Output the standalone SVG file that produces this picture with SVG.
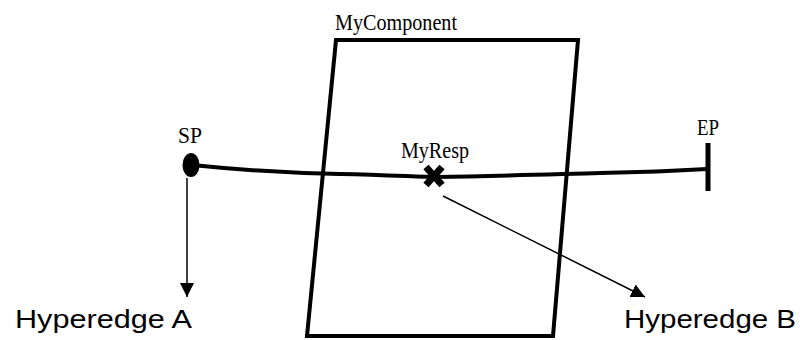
<svg xmlns="http://www.w3.org/2000/svg" width="800" height="340" viewBox="0 0 800 340">
<style>
.serif{font-family:"Liberation Serif",serif;font-size:23px;fill:#000}
.sans{font-family:"Liberation Sans",sans-serif;font-size:26px;fill:#000}
.thin{stroke:#000;stroke-width:1.5;fill:none}
</style>
<defs>
<marker id="ah2" viewBox="0 0 10 10" refX="10" refY="5" markerWidth="14" markerHeight="14" markerUnits="userSpaceOnUse" orient="auto">
<path d="M0,0 L10,5 L0,10 z" fill="#000"/>
</marker>
</defs>
<rect width="800" height="340" fill="#fff"/>
<g id="MyComponent">
<polygon points="336,40 578,40 553,336 307,336" fill="none" stroke="#000" stroke-width="4"/>
<text class="serif" x="335" y="30" textLength="122" lengthAdjust="spacingAndGlyphs">MyComponent</text>
</g>
<g id="connectors">
<path d="M192,165 C240,170 290,173 340,174 C390,175 420,177 435,177 C500,176 560,174 600,173 C650,172 690,170 707,169" fill="none" stroke="#000" stroke-width="4"/>
<line class="thin" x1="187" y1="178" x2="187" y2="297" marker-end="url(#ah2)"/>
<line class="thin" x1="443" y1="196" x2="645" y2="297" marker-end="url(#ah2)"/>
</g>
<g id="SP">
<ellipse cx="191" cy="165" rx="8.5" ry="12" fill="#000"/>
<text class="serif" x="178" y="143" textLength="24" lengthAdjust="spacingAndGlyphs">SP</text>
</g>
<g id="EP">
<line x1="708" y1="143" x2="708" y2="191" stroke="#000" stroke-width="5"/>
<text class="serif" x="697" y="135" textLength="22" lengthAdjust="spacingAndGlyphs">EP</text>
</g>
<g id="MyResp">
<path d="M426,167 L442,185 M442,167 L426,185" stroke="#000" stroke-width="7"/>
<text class="serif" x="401" y="158" textLength="68" lengthAdjust="spacingAndGlyphs">MyResp</text>
</g>
<g id="HyperedgeA">
<text class="sans" x="15" y="328" textLength="177" lengthAdjust="spacingAndGlyphs">Hyperedge A</text>
</g>
<g id="HyperedgeB">
<text class="sans" x="624" y="328" textLength="172" lengthAdjust="spacingAndGlyphs">Hyperedge B</text>
</g>
</svg>
